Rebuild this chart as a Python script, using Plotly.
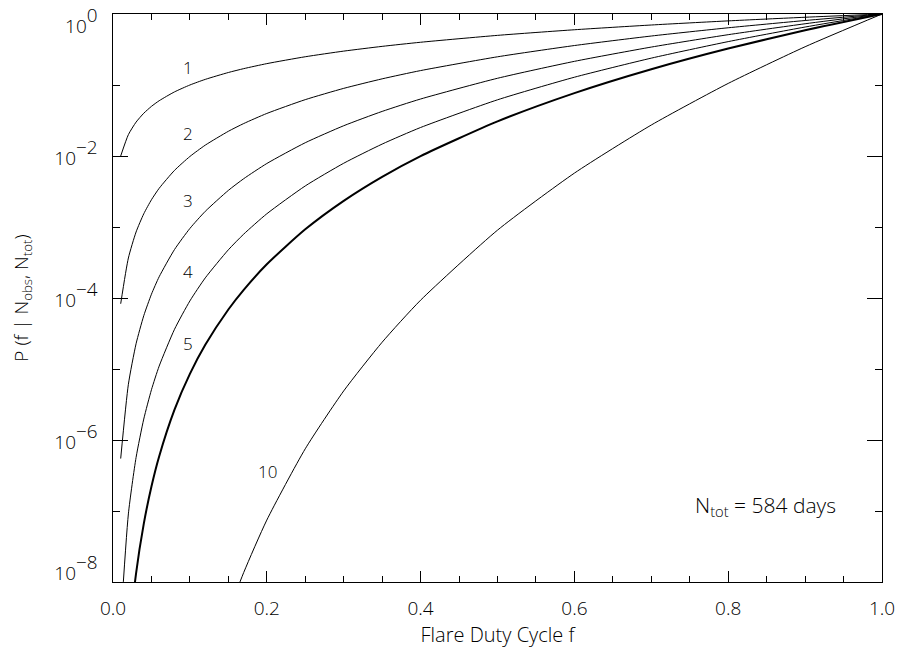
import plotly.graph_objects as go

# Flare duty cycle f (x samples)
f_vals = [0.01, 0.02, 0.03, 0.04, 0.05, 0.06, 0.08, 0.10, 0.12, 0.15, 0.17,
          0.20, 0.25, 0.30, 0.35, 0.40, 0.50, 0.60, 0.70, 0.80, 0.90, 1.00]

# P(f | Nobs, Ntot), one list per Nobs curve
p_n1 = [0.01, 0.02, 0.03, 0.04, 0.05, 0.06, 0.08, 0.10, 0.12, 0.15, 0.17,
        0.20, 0.25, 0.30, 0.35, 0.40, 0.50, 0.60, 0.70, 0.80, 0.90, 1.00]
p_n2 = [8.30e-5, 3.66e-4, 8.50e-4, 1.534e-3, 2.419e-3, 3.503e-3, 6.274e-3,
        9.846e-3, 1.422e-2, 2.228e-2, 2.866e-2, 3.973e-2, 6.218e-2, 8.964e-2,
        0.1221, 0.1596, 0.2496, 0.3596, 0.4896, 0.6397, 0.8098, 1.0]
p_n3 = [5.48e-7, 6.09e-6, 2.267e-5, 5.63e-5, 1.130e-4, 1.989e-4, 4.821e-4,
        9.541e-4, 1.663e-3, 3.277e-3, 4.790e-3, 7.836e-3, 1.538e-2, 2.668e-2,
        4.247e-2, 6.351e-2, 0.1244, 0.2153, 0.3422, 0.5113, 0.7286, 1.0]
p_n4 = [2.68e-9, 9.10e-8, 5.665e-7, 1.973e-6, 5.097e-6, 1.097e-5, 3.628e-5,
        9.098e-5, 1.920e-4, 4.772e-4, 7.938e-4, 1.535e-3, 3.787e-3, 7.906e-3,
        1.472e-2, 2.521e-2, 6.186e-2, 0.1287, 0.2390, 0.4085, 0.6553, 1.0]
p_n5 = [8.49e-12, 1.206e-9, 1.321e-8, 6.586e-8, 2.215e-7, 5.869e-7, 2.672e-6,
        8.533e-6, 2.188e-5, 6.878e-5, 1.304e-4, 2.985e-4, 9.270e-4, 2.334e-3,
        5.086e-3, 9.978e-3, 3.072e-2, 7.687e-2, 0.1668, 0.3263, 0.5894, 1.0]
p_n10 = [None, None, None, None, None, None, None,
         4.78e-11, 3.41e-10, 3.66e-9, 1.363e-8, 7.45e-8, 7.52e-7, 4.91e-6,
         2.384e-5, 9.32e-5, 9.03e-4, 5.740e-3, 2.732e-2, 0.1053, 0.3457, 1.0]

curve_names = ["1", "2", "3", "4", "5", "10"]
curve_values = [p_n1, p_n2, p_n3, p_n4, p_n5, p_n10]
curve_widths = [1, 1, 1, 1, 2, 1]

# curve label positions: f and log10(P)
label_f = [0.098, 0.097, 0.098, 0.098, 0.098, 0.2007]
label_logp = [-0.747, -1.69, -2.63, -3.63, -4.64, -6.45]

x_ticks = [0.0, 0.2, 0.4, 0.6, 0.8, 1.0]
y_ticks = [1e-8, 1e-6, 1e-4, 1e-2, 1.0]
y_minor = [1e-7, 1e-5, 1e-3, 1e-1]
y_exponents = ["−8", "−6", "−4", "−2", "0"]


def power_label(exp, shift=None):
    inner = '<span style="font-size:19px">10</span><span style="font-size:27px"><sup>%s</sup></span>' % exp
    if shift == "up":
        # bottom label sits a little inside the frame, as in the original
        return '<sup>%s</sup>' % inner
    if shift == "down":
        # top label sits a little inside the frame, as in the original
        return '<sub><sub>%s</sub></sub>' % inner
    return inner


y_ticktext = [power_label(y_exponents[0], "up"),
              power_label(y_exponents[1]),
              power_label(y_exponents[2]),
              power_label(y_exponents[3]),
              power_label(y_exponents[4], "down")]

FONT = "Open Sans, DejaVu Sans, sans-serif"
W = 300
fig = go.Figure()
for name, vals, w in zip(curve_names, curve_values, curve_widths):
    fig.add_trace(go.Scatter(x=f_vals, y=vals, mode="lines", name=name,
                             line=dict(color="black", width=w, shape="spline", smoothing=0.6),
                             showlegend=False))

for name, lf, lp in zip(curve_names, label_f, label_logp):
    fig.add_annotation(x=lf, y=lp, yref="y", xref="x", text=name, showarrow=False,
                       font=dict(family=FONT, size=17, color="black", weight=W))

fig.add_annotation(x=0.943, y=-6.93, xref="x", yref="y", xanchor="right",
                   text="N<sub>tot</sub> = 584 days", showarrow=False,
                   font=dict(family=FONT, size=21, color="black", weight=W))

# page is offset by the 8px default body margin, margins compensate for it
fig.update_layout(
    width=903, height=652,
    margin=dict(l=105, r=29, t=6, b=78),
    paper_bgcolor="white", plot_bgcolor="white",
    font=dict(family=FONT, size=19, color="black", weight=W),
)
fig.update_xaxes(
    range=[0, 1], tickvals=x_ticks, tickformat=".1f", automargin=False,
    showline=True, linecolor="black", linewidth=1, mirror="ticks",
    ticks="inside", ticklen=11, tickwidth=1, tickcolor="black",
    showgrid=False, zeroline=False, ticklabeloverflow="allow", ticklabelstandoff=9,
    minor=dict(dtick=0.05, ticks="inside", ticklen=6, tickcolor="black", tickwidth=1, showgrid=False),
    title=dict(text="Flare Duty Cycle f", font=dict(size=20, weight=W), standoff=4),
    tickfont=dict(size=19, weight=W),
)
fig.update_yaxes(
    type="log", range=[-8, 0], tickvals=y_ticks, ticktext=y_ticktext, automargin=False,
    showline=True, linecolor="black", linewidth=1, mirror="ticks",
    ticks="inside", ticklen=15, tickwidth=1, tickcolor="black",
    showgrid=False, zeroline=False, ticklabeloverflow="allow", ticklabelstandoff=9,
    minor=dict(tickmode="array", tickvals=y_minor, ticks="inside", ticklen=7,
               tickcolor="black", tickwidth=1, showgrid=False),
    title=dict(text="P (f | N<sub>obs</sub>, N<sub>tot</sub>)", font=dict(size=19, weight=W), standoff=25),
    tickfont=dict(size=27, weight=W),
)
fig.write_html("out.html")
